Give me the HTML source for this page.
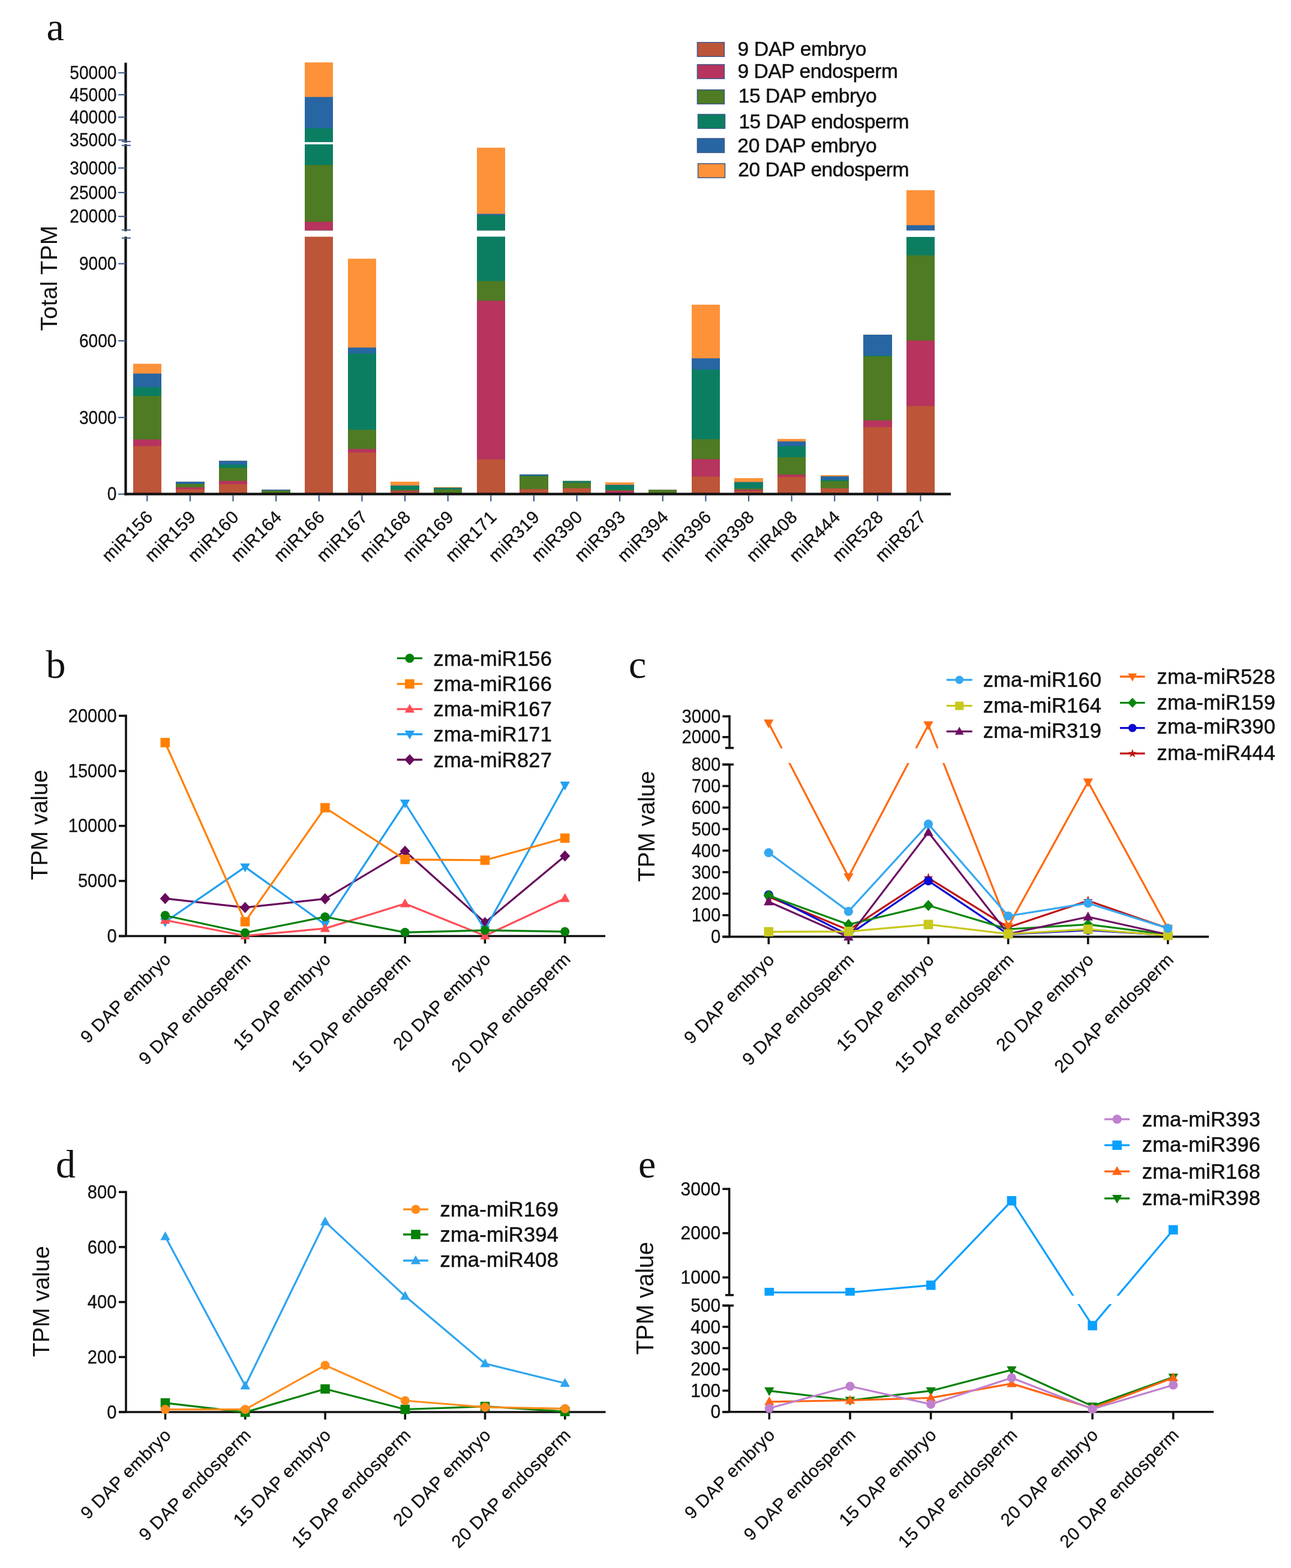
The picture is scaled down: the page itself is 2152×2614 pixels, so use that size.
<!DOCTYPE html>
<html><head><meta charset="utf-8"><title>Figure</title>
<style>
html,body{margin:0;padding:0;background:#fff;width:2152px;height:2614px;overflow:hidden;}
svg{display:block;}
text{font-family:"Liberation Sans",Arial,sans-serif;fill:#111;}
</style></head><body>
<svg width="2152" height="2614" viewBox="0 0 2152 2614">
<rect x="0" y="0" width="2152" height="2614" fill="#fff"/>
<text x="77.5" y="66.5" font-size="66" style="font-family:'Liberation Serif','Times New Roman',serif">a</text>
<rect x="222" y="606.4" width="47" height="217.3" fill="#fe9239" />
<rect x="222" y="622.8" width="47" height="200.9" fill="#2866a3" />
<rect x="222" y="645.3" width="47" height="178.4" fill="#0b7e62" />
<rect x="222" y="660" width="47" height="163.7" fill="#4e7b23" />
<rect x="222" y="732.6" width="47" height="91.1" fill="#b6345e" />
<rect x="222" y="743.8" width="47" height="79.9" fill="#bd5538" />
<rect x="293" y="802.9" width="48" height="20.8" fill="#fe9239" />
<rect x="293" y="803" width="48" height="20.7" fill="#2866a3" />
<rect x="293" y="806.6" width="48" height="17.1" fill="#0b7e62" />
<rect x="293" y="806.8" width="48" height="16.9" fill="#4e7b23" />
<rect x="293" y="812.5" width="48" height="11.2" fill="#b6345e" />
<rect x="293" y="815.6" width="48" height="8.1" fill="#bd5538" />
<rect x="365" y="767.9" width="47" height="55.8" fill="#fe9239" />
<rect x="365" y="768.2" width="47" height="55.5" fill="#2866a3" />
<rect x="365" y="774.5" width="47" height="49.2" fill="#0b7e62" />
<rect x="365" y="780" width="47" height="43.7" fill="#4e7b23" />
<rect x="365" y="801.7" width="47" height="22" fill="#b6345e" />
<rect x="365" y="807.2" width="47" height="16.5" fill="#bd5538" />
<rect x="436" y="816.2" width="48" height="7.5" fill="#fe9239" />
<rect x="436" y="816.3" width="48" height="7.4" fill="#2866a3" />
<rect x="436" y="817.8" width="48" height="5.9" fill="#0b7e62" />
<rect x="436" y="818" width="48" height="5.7" fill="#4e7b23" />
<rect x="436" y="823.3" width="48" height="0.4" fill="#b6345e" />
<rect x="436" y="823.5" width="48" height="0.2" fill="#bd5538" />
<rect x="508" y="394.6" width="47" height="429.1" fill="#bd5538" />
<rect x="508" y="240.6" width="47" height="143.6" fill="#0b7e62" />
<rect x="508" y="275.1" width="47" height="109.1" fill="#4e7b23" />
<rect x="508" y="369.7" width="47" height="14.5" fill="#b6345e" />
<rect x="508" y="104.1" width="47" height="132.6" fill="#fe9239" />
<rect x="508" y="161.7" width="47" height="75" fill="#2866a3" />
<rect x="508" y="213.7" width="47" height="23" fill="#0b7e62" />
<rect x="580" y="431.3" width="47" height="392.4" fill="#fe9239" />
<rect x="580" y="579.4" width="47" height="244.3" fill="#2866a3" />
<rect x="580" y="589.1" width="47" height="234.6" fill="#0b7e62" />
<rect x="580" y="716.4" width="47" height="107.3" fill="#4e7b23" />
<rect x="580" y="748.5" width="47" height="75.2" fill="#b6345e" />
<rect x="580" y="754.3" width="47" height="69.4" fill="#bd5538" />
<rect x="651" y="803" width="48" height="20.7" fill="#fe9239" />
<rect x="651" y="809.4" width="48" height="14.3" fill="#2866a3" />
<rect x="651" y="809.8" width="48" height="13.9" fill="#0b7e62" />
<rect x="651" y="815.9" width="48" height="7.8" fill="#4e7b23" />
<rect x="651" y="818.1" width="48" height="5.6" fill="#b6345e" />
<rect x="651" y="819.5" width="48" height="4.2" fill="#bd5538" />
<rect x="723" y="812" width="47" height="11.7" fill="#fe9239" />
<rect x="723" y="813" width="47" height="10.7" fill="#2866a3" />
<rect x="723" y="813.3" width="47" height="10.4" fill="#0b7e62" />
<rect x="723" y="815.9" width="47" height="7.8" fill="#4e7b23" />
<rect x="723" y="823.3" width="47" height="0.4" fill="#b6345e" />
<rect x="723" y="823.5" width="47" height="0.2" fill="#bd5538" />
<rect x="795" y="394.5" width="47" height="429.2" fill="#0b7e62" />
<rect x="795" y="468.5" width="47" height="355.2" fill="#4e7b23" />
<rect x="795" y="501.2" width="47" height="322.5" fill="#b6345e" />
<rect x="795" y="765.9" width="47" height="57.8" fill="#bd5538" />
<rect x="795" y="246.2" width="47" height="138" fill="#fe9239" />
<rect x="795" y="356.6" width="47" height="27.6" fill="#2866a3" />
<rect x="795" y="358.6" width="47" height="25.6" fill="#0b7e62" />
<rect x="866" y="790.8" width="48" height="32.9" fill="#fe9239" />
<rect x="866" y="790.9" width="48" height="32.8" fill="#2866a3" />
<rect x="866" y="793" width="48" height="30.7" fill="#0b7e62" />
<rect x="866" y="793.8" width="48" height="29.9" fill="#4e7b23" />
<rect x="866" y="815.5" width="48" height="8.2" fill="#b6345e" />
<rect x="866" y="815.7" width="48" height="8" fill="#bd5538" />
<rect x="938" y="801.7" width="47" height="22" fill="#fe9239" />
<rect x="938" y="801.8" width="47" height="21.9" fill="#2866a3" />
<rect x="938" y="801.9" width="47" height="21.8" fill="#0b7e62" />
<rect x="938" y="804.8" width="47" height="18.9" fill="#4e7b23" />
<rect x="938" y="813.8" width="47" height="9.9" fill="#b6345e" />
<rect x="938" y="814" width="47" height="9.7" fill="#bd5538" />
<rect x="1009" y="804.2" width="48" height="19.5" fill="#fe9239" />
<rect x="1009" y="808.2" width="48" height="15.5" fill="#2866a3" />
<rect x="1009" y="808.8" width="48" height="14.9" fill="#0b7e62" />
<rect x="1009" y="816.3" width="48" height="7.4" fill="#4e7b23" />
<rect x="1009" y="818" width="48" height="5.7" fill="#b6345e" />
<rect x="1009" y="823.5" width="48" height="0.2" fill="#bd5538" />
<rect x="1081" y="816.5" width="47" height="7.2" fill="#fe9239" />
<rect x="1081" y="816.6" width="47" height="7.1" fill="#2866a3" />
<rect x="1081" y="816.8" width="47" height="6.9" fill="#0b7e62" />
<rect x="1081" y="817" width="47" height="6.7" fill="#4e7b23" />
<rect x="1081" y="822" width="47" height="1.7" fill="#b6345e" />
<rect x="1081" y="823" width="47" height="0.7" fill="#bd5538" />
<rect x="1153" y="507.9" width="47" height="315.8" fill="#fe9239" />
<rect x="1153" y="597.3" width="47" height="226.4" fill="#2866a3" />
<rect x="1153" y="616" width="47" height="207.7" fill="#0b7e62" />
<rect x="1153" y="732.2" width="47" height="91.5" fill="#4e7b23" />
<rect x="1153" y="765.4" width="47" height="58.3" fill="#b6345e" />
<rect x="1153" y="794.4" width="47" height="29.3" fill="#bd5538" />
<rect x="1224" y="797.1" width="48" height="26.6" fill="#fe9239" />
<rect x="1224" y="803.5" width="48" height="20.2" fill="#2866a3" />
<rect x="1224" y="804.2" width="48" height="19.5" fill="#0b7e62" />
<rect x="1224" y="814.2" width="48" height="9.5" fill="#4e7b23" />
<rect x="1224" y="816.3" width="48" height="7.4" fill="#b6345e" />
<rect x="1224" y="818.5" width="48" height="5.2" fill="#bd5538" />
<rect x="1296" y="731.7" width="47" height="92" fill="#fe9239" />
<rect x="1296" y="735.9" width="47" height="87.8" fill="#2866a3" />
<rect x="1296" y="743.5" width="47" height="80.2" fill="#0b7e62" />
<rect x="1296" y="762.3" width="47" height="61.4" fill="#4e7b23" />
<rect x="1296" y="791.2" width="47" height="32.5" fill="#b6345e" />
<rect x="1296" y="795.1" width="47" height="28.6" fill="#bd5538" />
<rect x="1368" y="792.1" width="47" height="31.6" fill="#fe9239" />
<rect x="1368" y="794.1" width="47" height="29.6" fill="#2866a3" />
<rect x="1368" y="800.1" width="47" height="23.6" fill="#0b7e62" />
<rect x="1368" y="802.1" width="47" height="21.6" fill="#4e7b23" />
<rect x="1368" y="814" width="47" height="9.7" fill="#b6345e" />
<rect x="1368" y="814.2" width="47" height="9.5" fill="#bd5538" />
<rect x="1439" y="557.8" width="48" height="265.9" fill="#fe9239" />
<rect x="1439" y="558" width="48" height="265.7" fill="#2866a3" />
<rect x="1439" y="592.7" width="48" height="231" fill="#0b7e62" />
<rect x="1439" y="594" width="48" height="229.7" fill="#4e7b23" />
<rect x="1439" y="700.8" width="48" height="122.9" fill="#b6345e" />
<rect x="1439" y="712.1" width="48" height="111.6" fill="#bd5538" />
<rect x="1511" y="395" width="47" height="428.7" fill="#0b7e62" />
<rect x="1511" y="425.6" width="47" height="398.1" fill="#4e7b23" />
<rect x="1511" y="567.6" width="47" height="256.1" fill="#b6345e" />
<rect x="1511" y="676.9" width="47" height="146.8" fill="#bd5538" />
<rect x="1511" y="317.1" width="47" height="67.1" fill="#fe9239" />
<rect x="1511" y="375.4" width="47" height="8.8" fill="#2866a3" />
<line x1="209.5" y1="104.5" x2="209.5" y2="237.7" stroke="#111" stroke-width="4.2" />
<line x1="209.5" y1="240.2" x2="209.5" y2="385.6" stroke="#111" stroke-width="4.2" />
<line x1="209.5" y1="394.6" x2="209.5" y2="825.7" stroke="#111" stroke-width="4.2" />
<line x1="202.9" y1="235.9" x2="217.9" y2="235.9" stroke="#3d5a8c" stroke-width="2" />
<line x1="202.9" y1="242.5" x2="217.9" y2="242.5" stroke="#3d5a8c" stroke-width="2" />
<line x1="202.9" y1="383.4" x2="217.9" y2="383.4" stroke="#3d5a8c" stroke-width="2" />
<line x1="202.9" y1="396.8" x2="217.9" y2="396.8" stroke="#3d5a8c" stroke-width="2" />
<line x1="197.2" y1="121.4" x2="209.5" y2="121.4" stroke="#3d5a8c" stroke-width="2.2" />
<text transform="translate(194.49,132) scale(0.91,1)" font-size="30.9" text-anchor="end" textLength="85.93" lengthAdjust="spacing" stroke="#111" stroke-width="0.3">50000</text>
<line x1="197.2" y1="157.9" x2="209.5" y2="157.9" stroke="#3d5a8c" stroke-width="2.2" />
<text transform="translate(194.49,168.5) scale(0.91,1)" font-size="30.9" text-anchor="end" textLength="85.93" lengthAdjust="spacing" stroke="#111" stroke-width="0.3">45000</text>
<line x1="197.2" y1="195.4" x2="209.5" y2="195.4" stroke="#3d5a8c" stroke-width="2.2" />
<text transform="translate(194.49,206) scale(0.91,1)" font-size="30.9" text-anchor="end" textLength="85.93" lengthAdjust="spacing" stroke="#111" stroke-width="0.3">40000</text>
<line x1="197.2" y1="233.4" x2="209.5" y2="233.4" stroke="#3d5a8c" stroke-width="2.2" />
<text transform="translate(194.49,244) scale(0.91,1)" font-size="30.9" text-anchor="end" textLength="85.93" lengthAdjust="spacing" stroke="#111" stroke-width="0.3">35000</text>
<line x1="197.2" y1="280.1" x2="209.5" y2="280.1" stroke="#3d5a8c" stroke-width="2.2" />
<text transform="translate(194.49,290.7) scale(0.91,1)" font-size="30.9" text-anchor="end" textLength="85.93" lengthAdjust="spacing" stroke="#111" stroke-width="0.3">30000</text>
<line x1="197.2" y1="321" x2="209.5" y2="321" stroke="#3d5a8c" stroke-width="2.2" />
<text transform="translate(194.49,331.6) scale(0.91,1)" font-size="30.9" text-anchor="end" textLength="85.93" lengthAdjust="spacing" stroke="#111" stroke-width="0.3">25000</text>
<line x1="197.2" y1="360.8" x2="209.5" y2="360.8" stroke="#3d5a8c" stroke-width="2.2" />
<text transform="translate(194.49,371.4) scale(0.91,1)" font-size="30.9" text-anchor="end" textLength="85.93" lengthAdjust="spacing" stroke="#111" stroke-width="0.3">20000</text>
<line x1="197.2" y1="439.6" x2="209.5" y2="439.6" stroke="#3d5a8c" stroke-width="2.2" />
<text transform="translate(194.51,450.2) scale(0.91,1)" font-size="30.9" text-anchor="end" textLength="68.74" lengthAdjust="spacing" stroke="#111" stroke-width="0.3">9000</text>
<line x1="197.2" y1="568.2" x2="209.5" y2="568.2" stroke="#3d5a8c" stroke-width="2.2" />
<text transform="translate(194.51,578.8) scale(0.91,1)" font-size="30.9" text-anchor="end" textLength="68.74" lengthAdjust="spacing" stroke="#111" stroke-width="0.3">6000</text>
<line x1="197.2" y1="696" x2="209.5" y2="696" stroke="#3d5a8c" stroke-width="2.2" />
<text transform="translate(194.51,706.6) scale(0.91,1)" font-size="30.9" text-anchor="end" textLength="68.74" lengthAdjust="spacing" stroke="#111" stroke-width="0.3">3000</text>
<line x1="197.2" y1="823.7" x2="209.5" y2="823.7" stroke="#3d5a8c" stroke-width="2.2" />
<text transform="translate(194.5,834.3) scale(0.91,1)" font-size="30.9" text-anchor="end" textLength="17.19" lengthAdjust="spacing" stroke="#111" stroke-width="0.3">0</text>
<line x1="207.4" y1="823.7" x2="1585" y2="823.7" stroke="#111" stroke-width="4.2" />
<line x1="245.3" y1="825.7" x2="245.3" y2="835.8" stroke="#3d5a8c" stroke-width="2.2" />
<text transform="translate(256.3,864) rotate(-45)" font-size="29.5" text-anchor="end" textLength="105.21" lengthAdjust="spacing" stroke="#111" stroke-width="0.3">miR156</text>
<line x1="316.92" y1="825.7" x2="316.92" y2="835.8" stroke="#3d5a8c" stroke-width="2.2" />
<text transform="translate(327.92,864) rotate(-45)" font-size="29.5" text-anchor="end" textLength="105.21" lengthAdjust="spacing" stroke="#111" stroke-width="0.3">miR159</text>
<line x1="388.54" y1="825.7" x2="388.54" y2="835.8" stroke="#3d5a8c" stroke-width="2.2" />
<text transform="translate(399.54,864) rotate(-45)" font-size="29.5" text-anchor="end" textLength="105.21" lengthAdjust="spacing" stroke="#111" stroke-width="0.3">miR160</text>
<line x1="460.16" y1="825.7" x2="460.16" y2="835.8" stroke="#3d5a8c" stroke-width="2.2" />
<text transform="translate(471.16,864) rotate(-45)" font-size="29.5" text-anchor="end" textLength="105.21" lengthAdjust="spacing" stroke="#111" stroke-width="0.3">miR164</text>
<line x1="531.78" y1="825.7" x2="531.78" y2="835.8" stroke="#3d5a8c" stroke-width="2.2" />
<text transform="translate(542.78,864) rotate(-45)" font-size="29.5" text-anchor="end" textLength="105.21" lengthAdjust="spacing" stroke="#111" stroke-width="0.3">miR166</text>
<line x1="603.4" y1="825.7" x2="603.4" y2="835.8" stroke="#3d5a8c" stroke-width="2.2" />
<text transform="translate(614.4,864) rotate(-45)" font-size="29.5" text-anchor="end" textLength="105.21" lengthAdjust="spacing" stroke="#111" stroke-width="0.3">miR167</text>
<line x1="675.02" y1="825.7" x2="675.02" y2="835.8" stroke="#3d5a8c" stroke-width="2.2" />
<text transform="translate(686.02,864) rotate(-45)" font-size="29.5" text-anchor="end" textLength="105.21" lengthAdjust="spacing" stroke="#111" stroke-width="0.3">miR168</text>
<line x1="746.64" y1="825.7" x2="746.64" y2="835.8" stroke="#3d5a8c" stroke-width="2.2" />
<text transform="translate(757.64,864) rotate(-45)" font-size="29.5" text-anchor="end" textLength="105.21" lengthAdjust="spacing" stroke="#111" stroke-width="0.3">miR169</text>
<line x1="818.26" y1="825.7" x2="818.26" y2="835.8" stroke="#3d5a8c" stroke-width="2.2" />
<text transform="translate(829.26,864) rotate(-45)" font-size="29.5" text-anchor="end" textLength="105.21" lengthAdjust="spacing" stroke="#111" stroke-width="0.3">miR171</text>
<line x1="889.88" y1="825.7" x2="889.88" y2="835.8" stroke="#3d5a8c" stroke-width="2.2" />
<text transform="translate(900.88,864) rotate(-45)" font-size="29.5" text-anchor="end" textLength="105.21" lengthAdjust="spacing" stroke="#111" stroke-width="0.3">miR319</text>
<line x1="961.5" y1="825.7" x2="961.5" y2="835.8" stroke="#3d5a8c" stroke-width="2.2" />
<text transform="translate(972.5,864) rotate(-45)" font-size="29.5" text-anchor="end" textLength="105.21" lengthAdjust="spacing" stroke="#111" stroke-width="0.3">miR390</text>
<line x1="1033.12" y1="825.7" x2="1033.12" y2="835.8" stroke="#3d5a8c" stroke-width="2.2" />
<text transform="translate(1044.12,864) rotate(-45)" font-size="29.5" text-anchor="end" textLength="105.21" lengthAdjust="spacing" stroke="#111" stroke-width="0.3">miR393</text>
<line x1="1104.74" y1="825.7" x2="1104.74" y2="835.8" stroke="#3d5a8c" stroke-width="2.2" />
<text transform="translate(1115.74,864) rotate(-45)" font-size="29.5" text-anchor="end" textLength="105.21" lengthAdjust="spacing" stroke="#111" stroke-width="0.3">miR394</text>
<line x1="1176.36" y1="825.7" x2="1176.36" y2="835.8" stroke="#3d5a8c" stroke-width="2.2" />
<text transform="translate(1187.36,864) rotate(-45)" font-size="29.5" text-anchor="end" textLength="105.21" lengthAdjust="spacing" stroke="#111" stroke-width="0.3">miR396</text>
<line x1="1247.98" y1="825.7" x2="1247.98" y2="835.8" stroke="#3d5a8c" stroke-width="2.2" />
<text transform="translate(1258.98,864) rotate(-45)" font-size="29.5" text-anchor="end" textLength="105.21" lengthAdjust="spacing" stroke="#111" stroke-width="0.3">miR398</text>
<line x1="1319.6" y1="825.7" x2="1319.6" y2="835.8" stroke="#3d5a8c" stroke-width="2.2" />
<text transform="translate(1330.6,864) rotate(-45)" font-size="29.5" text-anchor="end" textLength="105.21" lengthAdjust="spacing" stroke="#111" stroke-width="0.3">miR408</text>
<line x1="1391.22" y1="825.7" x2="1391.22" y2="835.8" stroke="#3d5a8c" stroke-width="2.2" />
<text transform="translate(1402.22,864) rotate(-45)" font-size="29.5" text-anchor="end" textLength="105.21" lengthAdjust="spacing" stroke="#111" stroke-width="0.3">miR444</text>
<line x1="1462.84" y1="825.7" x2="1462.84" y2="835.8" stroke="#3d5a8c" stroke-width="2.2" />
<text transform="translate(1473.84,864) rotate(-45)" font-size="29.5" text-anchor="end" textLength="105.21" lengthAdjust="spacing" stroke="#111" stroke-width="0.3">miR528</text>
<line x1="1534.46" y1="825.7" x2="1534.46" y2="835.8" stroke="#3d5a8c" stroke-width="2.2" />
<text transform="translate(1545.46,864) rotate(-45)" font-size="29.5" text-anchor="end" textLength="105.21" lengthAdjust="spacing" stroke="#111" stroke-width="0.3">miR827</text>
<text transform="translate(94.8,551.54) rotate(-90)" font-size="38.2" textLength="175.27" lengthAdjust="spacing">Total TPM</text>
<rect x="1162.4" y="70.7" width="45" height="23.5" fill="#bd5538" stroke="#3d5a8c" stroke-width="1.5"/>
<text x="1229.42" y="93.1" font-size="33.6" textLength="215" lengthAdjust="spacing" stroke="#111" stroke-width="0.5">9 DAP embryo</text>
<rect x="1162.4" y="107.6" width="45" height="23.5" fill="#b6345e" stroke="#3d5a8c" stroke-width="1.5"/>
<text x="1229.42" y="129.5" font-size="33.6" textLength="267.59" lengthAdjust="spacing" stroke="#111" stroke-width="0.5">9 DAP endosperm</text>
<rect x="1162.4" y="149.8" width="45" height="23.5" fill="#4e7b23" stroke="#3d5a8c" stroke-width="1.5"/>
<text x="1230.75" y="171" font-size="33.6" textLength="230.98" lengthAdjust="spacing" stroke="#111" stroke-width="0.5">15 DAP embryo</text>
<rect x="1163.5" y="190.6" width="45" height="23.5" fill="#0b7e62" stroke="#3d5a8c" stroke-width="1.5"/>
<text x="1231.45" y="213.6" font-size="33.6" textLength="284.07" lengthAdjust="spacing" stroke="#111" stroke-width="0.5">15 DAP endosperm</text>
<rect x="1162.4" y="230.9" width="45" height="23.5" fill="#2866a3" stroke="#3d5a8c" stroke-width="1.5"/>
<text x="1229.32" y="253.9" font-size="33.6" textLength="232.41" lengthAdjust="spacing" stroke="#111" stroke-width="0.5">20 DAP embryo</text>
<rect x="1163.5" y="272.8" width="45" height="23.5" fill="#fe9239" stroke="#3d5a8c" stroke-width="1.5"/>
<text x="1230.32" y="294.2" font-size="33.6" textLength="285.2" lengthAdjust="spacing" stroke="#111" stroke-width="0.5">20 DAP endosperm</text>
<text x="76.5" y="1130" font-size="66" style="font-family:'Liberation Serif','Times New Roman',serif">b</text>
<line x1="210" y1="1191.5" x2="210" y2="1560.5" stroke="#111" stroke-width="3.6" />
<line x1="198" y1="1193.3" x2="210" y2="1193.3" stroke="#111" stroke-width="3.6" />
<text transform="translate(194.63,1203.9) scale(0.942,1)" font-size="30.9" text-anchor="end" textLength="85.93" lengthAdjust="spacing" stroke="#111" stroke-width="0.3">20000</text>
<line x1="198" y1="1285.4" x2="210" y2="1285.4" stroke="#111" stroke-width="3.6" />
<text transform="translate(194.63,1296) scale(0.942,1)" font-size="30.9" text-anchor="end" textLength="85.93" lengthAdjust="spacing" stroke="#111" stroke-width="0.3">15000</text>
<line x1="198" y1="1376.8" x2="210" y2="1376.8" stroke="#111" stroke-width="3.6" />
<text transform="translate(194.63,1387.4) scale(0.942,1)" font-size="30.9" text-anchor="end" textLength="85.93" lengthAdjust="spacing" stroke="#111" stroke-width="0.3">10000</text>
<line x1="198" y1="1468.6" x2="210" y2="1468.6" stroke="#111" stroke-width="3.6" />
<text transform="translate(194.65,1479.2) scale(0.942,1)" font-size="30.9" text-anchor="end" textLength="68.74" lengthAdjust="spacing" stroke="#111" stroke-width="0.3">5000</text>
<line x1="198" y1="1560.5" x2="210" y2="1560.5" stroke="#111" stroke-width="3.6" />
<text transform="translate(194.64,1571.1) scale(0.942,1)" font-size="30.9" text-anchor="end" textLength="17.19" lengthAdjust="spacing" stroke="#111" stroke-width="0.3">0</text>
<line x1="198" y1="1560.5" x2="1009" y2="1560.5" stroke="#111" stroke-width="3.6" />
<line x1="275.3" y1="1560.5" x2="275.3" y2="1573" stroke="#111" stroke-width="3.6" />
<line x1="408.58" y1="1560.5" x2="408.58" y2="1573" stroke="#111" stroke-width="3.6" />
<line x1="541.86" y1="1560.5" x2="541.86" y2="1573" stroke="#111" stroke-width="3.6" />
<line x1="675.14" y1="1560.5" x2="675.14" y2="1573" stroke="#111" stroke-width="3.6" />
<line x1="808.42" y1="1560.5" x2="808.42" y2="1573" stroke="#111" stroke-width="3.6" />
<line x1="941.7" y1="1560.5" x2="941.7" y2="1573" stroke="#111" stroke-width="3.6" />
<text transform="translate(286.3,1600.8) rotate(-45)" font-size="29.5" text-anchor="end" textLength="197.99" lengthAdjust="spacing" stroke="#111" stroke-width="0.3">9 DAP embryo</text>
<text transform="translate(419.58,1600.8) rotate(-45)" font-size="29.5" text-anchor="end" textLength="248.93" lengthAdjust="spacing" stroke="#111" stroke-width="0.3">9 DAP endosperm</text>
<text transform="translate(552.86,1600.8) rotate(-45)" font-size="29.5" text-anchor="end" textLength="214.97" lengthAdjust="spacing" stroke="#111" stroke-width="0.3">15 DAP embryo</text>
<text transform="translate(686.14,1600.8) rotate(-45)" font-size="29.5" text-anchor="end" textLength="265.91" lengthAdjust="spacing" stroke="#111" stroke-width="0.3">15 DAP endosperm</text>
<text transform="translate(819.42,1600.8) rotate(-45)" font-size="29.5" text-anchor="end" textLength="214.97" lengthAdjust="spacing" stroke="#111" stroke-width="0.3">20 DAP embryo</text>
<text transform="translate(952.7,1600.8) rotate(-45)" font-size="29.5" text-anchor="end" textLength="265.91" lengthAdjust="spacing" stroke="#111" stroke-width="0.3">20 DAP endosperm</text>
<text transform="translate(79.3,1467.06) rotate(-90)" font-size="39" textLength="183.79" lengthAdjust="spacing">TPM value</text>
<polyline points="275.3,1497.9 408.58,1512.9 541.86,1498.4 675.14,1419 808.42,1538 941.7,1427" fill="none" stroke="#680b5c" stroke-width="3.2" stroke-linejoin="round"/>
<polygon points="275.3,1488.6 283.9,1497.9 275.3,1507.2 266.7,1497.9" fill="#680b5c"/>
<polygon points="408.58,1503.6 417.18,1512.9 408.58,1522.2 399.98,1512.9" fill="#680b5c"/>
<polygon points="541.86,1489.1 550.46,1498.4 541.86,1507.7 533.26,1498.4" fill="#680b5c"/>
<polygon points="675.14,1409.7 683.74,1419 675.14,1428.3 666.54,1419" fill="#680b5c"/>
<polygon points="808.42,1528.7 817.02,1538 808.42,1547.3 799.82,1538" fill="#680b5c"/>
<polygon points="941.7,1417.7 950.3,1427 941.7,1436.3 933.1,1427" fill="#680b5c"/>
<polyline points="275.3,1537 408.58,1445.4 541.86,1541 675.14,1339 808.42,1549.6 941.7,1309" fill="none" stroke="#22a0f0" stroke-width="3.2" stroke-linejoin="round"/>
<polygon points="275.3,1545.8 283.5,1531.1 267.1,1531.1" fill="#22a0f0"/>
<polygon points="408.58,1454.2 416.78,1439.5 400.38,1439.5" fill="#22a0f0"/>
<polygon points="541.86,1549.8 550.06,1535.1 533.66,1535.1" fill="#22a0f0"/>
<polygon points="675.14,1347.8 683.34,1333.1 666.94,1333.1" fill="#22a0f0"/>
<polygon points="808.42,1558.4 816.62,1543.7 800.22,1543.7" fill="#22a0f0"/>
<polygon points="941.7,1317.8 949.9,1303.1 933.5,1303.1" fill="#22a0f0"/>
<polyline points="275.3,1534 408.58,1560 541.86,1547.9 675.14,1506.5 808.42,1560 941.7,1497.8" fill="none" stroke="#ff4d55" stroke-width="3.2" stroke-linejoin="round"/>
<polygon points="275.3,1525.2 283.5,1539.9 267.1,1539.9" fill="#ff4d55"/>
<polygon points="408.58,1551.2 416.78,1565.9 400.38,1565.9" fill="#ff4d55"/>
<polygon points="541.86,1539.1 550.06,1553.8 533.66,1553.8" fill="#ff4d55"/>
<polygon points="675.14,1497.7 683.34,1512.4 666.94,1512.4" fill="#ff4d55"/>
<polygon points="808.42,1551.2 816.62,1565.9 800.22,1565.9" fill="#ff4d55"/>
<polygon points="941.7,1489 949.9,1503.7 933.5,1503.7" fill="#ff4d55"/>
<polyline points="275.3,1238 408.58,1536.6 541.86,1346.5 675.14,1432.8 808.42,1434 941.7,1397.2" fill="none" stroke="#ff8000" stroke-width="3.2" stroke-linejoin="round"/>
<rect x="267.5" y="1230.2" width="15.6" height="15.6" fill="#ff8000"/>
<rect x="400.78" y="1528.8" width="15.6" height="15.6" fill="#ff8000"/>
<rect x="534.06" y="1338.7" width="15.6" height="15.6" fill="#ff8000"/>
<rect x="667.34" y="1425" width="15.6" height="15.6" fill="#ff8000"/>
<rect x="800.62" y="1426.2" width="15.6" height="15.6" fill="#ff8000"/>
<rect x="933.9" y="1389.4" width="15.6" height="15.6" fill="#ff8000"/>
<polyline points="275.3,1526.2 408.58,1555 541.86,1528.5 675.14,1554.4 808.42,1550.9 941.7,1553.2" fill="none" stroke="#04800a" stroke-width="3.2" stroke-linejoin="round"/>
<circle cx="275.3" cy="1526.2" r="7.6" fill="#04800a"/>
<circle cx="408.58" cy="1555" r="7.6" fill="#04800a"/>
<circle cx="541.86" cy="1528.5" r="7.6" fill="#04800a"/>
<circle cx="675.14" cy="1554.4" r="7.6" fill="#04800a"/>
<circle cx="808.42" cy="1550.9" r="7.6" fill="#04800a"/>
<circle cx="941.7" cy="1553.2" r="7.6" fill="#04800a"/>
<line x1="661.8" y1="1097.4" x2="704" y2="1097.4" stroke="#04800a" stroke-width="3.3" />
<circle cx="682.9" cy="1097.4" r="7.6" fill="#04800a"/>
<text x="722.49" y="1109.8" font-size="34.4" textLength="197.32" lengthAdjust="spacing" stroke="#111" stroke-width="0.5">zma-miR156</text>
<line x1="661.8" y1="1140.2" x2="704" y2="1140.2" stroke="#ff8000" stroke-width="3.3" />
<rect x="675.1" y="1132.4" width="15.6" height="15.6" fill="#ff8000"/>
<text x="722.49" y="1151.6" font-size="34.4" textLength="197.32" lengthAdjust="spacing" stroke="#111" stroke-width="0.5">zma-miR166</text>
<line x1="661.8" y1="1182.2" x2="704" y2="1182.2" stroke="#ff4d55" stroke-width="3.3" />
<polygon points="682.9,1173.4 691.1,1188.1 674.7,1188.1" fill="#ff4d55"/>
<text x="722.49" y="1193.6" font-size="34.4" textLength="197.32" lengthAdjust="spacing" stroke="#111" stroke-width="0.5">zma-miR167</text>
<line x1="661.8" y1="1224" x2="704" y2="1224" stroke="#22a0f0" stroke-width="3.3" />
<polygon points="682.9,1232.8 691.1,1218.1 674.7,1218.1" fill="#22a0f0"/>
<text x="722.49" y="1236" font-size="34.4" textLength="197.32" lengthAdjust="spacing" stroke="#111" stroke-width="0.5">zma-miR171</text>
<line x1="661.8" y1="1266.5" x2="704" y2="1266.5" stroke="#680b5c" stroke-width="3.3" />
<polygon points="682.9,1257.2 691.5,1266.5 682.9,1275.8 674.3,1266.5" fill="#680b5c"/>
<text x="722.49" y="1279.4" font-size="34.4" textLength="197.32" lengthAdjust="spacing" stroke="#111" stroke-width="0.5">zma-miR827</text>
<text x="1048" y="1130" font-size="66" style="font-family:'Liberation Serif','Times New Roman',serif">c</text>
<defs><clipPath id="clipc"><rect x="1100" y="1100" width="1000" height="147.4"/><rect x="1100" y="1272" width="1000" height="400"/></clipPath><clipPath id="clipe"><rect x="1100" y="1900" width="1000" height="260"/><rect x="1100" y="2174" width="1000" height="300"/></clipPath></defs>
<line x1="1216" y1="1192.4" x2="1216" y2="1246.9" stroke="#111" stroke-width="3.6" />
<line x1="1209" y1="1246.9" x2="1223" y2="1246.9" stroke="#111" stroke-width="3.6" />
<line x1="1216" y1="1274.5" x2="1216" y2="1561.6" stroke="#111" stroke-width="3.6" />
<line x1="1204.3" y1="1274.5" x2="1223" y2="1274.5" stroke="#111" stroke-width="3.6" />
<line x1="1204.3" y1="1194.2" x2="1216" y2="1194.2" stroke="#111" stroke-width="3.6" />
<text transform="translate(1201.36,1204.8) scale(0.945,1)" font-size="30.9" text-anchor="end" textLength="68.74" lengthAdjust="spacing" stroke="#111" stroke-width="0.3">3000</text>
<line x1="1204.3" y1="1228.8" x2="1216" y2="1228.8" stroke="#111" stroke-width="3.6" />
<text transform="translate(1201.36,1239.4) scale(0.945,1)" font-size="30.9" text-anchor="end" textLength="68.74" lengthAdjust="spacing" stroke="#111" stroke-width="0.3">2000</text>
<line x1="1204.3" y1="1561.6" x2="1216" y2="1561.6" stroke="#111" stroke-width="3.6" />
<text transform="translate(1201.34,1572.2) scale(0.945,1)" font-size="30.9" text-anchor="end" textLength="17.19" lengthAdjust="spacing" stroke="#111" stroke-width="0.3">0</text>
<line x1="1204.3" y1="1525.71" x2="1216" y2="1525.71" stroke="#111" stroke-width="3.6" />
<text transform="translate(1201.35,1536.31) scale(0.945,1)" font-size="30.9" text-anchor="end" textLength="51.56" lengthAdjust="spacing" stroke="#111" stroke-width="0.3">100</text>
<line x1="1204.3" y1="1489.82" x2="1216" y2="1489.82" stroke="#111" stroke-width="3.6" />
<text transform="translate(1201.35,1500.42) scale(0.945,1)" font-size="30.9" text-anchor="end" textLength="51.56" lengthAdjust="spacing" stroke="#111" stroke-width="0.3">200</text>
<line x1="1204.3" y1="1453.94" x2="1216" y2="1453.94" stroke="#111" stroke-width="3.6" />
<text transform="translate(1201.35,1464.54) scale(0.945,1)" font-size="30.9" text-anchor="end" textLength="51.56" lengthAdjust="spacing" stroke="#111" stroke-width="0.3">300</text>
<line x1="1204.3" y1="1418.05" x2="1216" y2="1418.05" stroke="#111" stroke-width="3.6" />
<text transform="translate(1201.35,1428.65) scale(0.945,1)" font-size="30.9" text-anchor="end" textLength="51.56" lengthAdjust="spacing" stroke="#111" stroke-width="0.3">400</text>
<line x1="1204.3" y1="1382.16" x2="1216" y2="1382.16" stroke="#111" stroke-width="3.6" />
<text transform="translate(1201.35,1392.76) scale(0.945,1)" font-size="30.9" text-anchor="end" textLength="51.56" lengthAdjust="spacing" stroke="#111" stroke-width="0.3">500</text>
<line x1="1204.3" y1="1346.28" x2="1216" y2="1346.28" stroke="#111" stroke-width="3.6" />
<text transform="translate(1201.35,1356.88) scale(0.945,1)" font-size="30.9" text-anchor="end" textLength="51.56" lengthAdjust="spacing" stroke="#111" stroke-width="0.3">600</text>
<line x1="1204.3" y1="1310.39" x2="1216" y2="1310.39" stroke="#111" stroke-width="3.6" />
<text transform="translate(1201.35,1320.99) scale(0.945,1)" font-size="30.9" text-anchor="end" textLength="51.56" lengthAdjust="spacing" stroke="#111" stroke-width="0.3">700</text>
<line x1="1204.3" y1="1274.5" x2="1216" y2="1274.5" stroke="#111" stroke-width="3.6" />
<text transform="translate(1201.35,1285.1) scale(0.945,1)" font-size="30.9" text-anchor="end" textLength="51.56" lengthAdjust="spacing" stroke="#111" stroke-width="0.3">800</text>
<line x1="1204.3" y1="1561.6" x2="2015" y2="1561.6" stroke="#111" stroke-width="3.6" />
<line x1="1281.3" y1="1561.6" x2="1281.3" y2="1574.1" stroke="#111" stroke-width="3.6" />
<line x1="1414.4" y1="1561.6" x2="1414.4" y2="1574.1" stroke="#111" stroke-width="3.6" />
<line x1="1547.5" y1="1561.6" x2="1547.5" y2="1574.1" stroke="#111" stroke-width="3.6" />
<line x1="1680.6" y1="1561.6" x2="1680.6" y2="1574.1" stroke="#111" stroke-width="3.6" />
<line x1="1813.7" y1="1561.6" x2="1813.7" y2="1574.1" stroke="#111" stroke-width="3.6" />
<line x1="1946.8" y1="1561.6" x2="1946.8" y2="1574.1" stroke="#111" stroke-width="3.6" />
<text transform="translate(1292.3,1601.9) rotate(-45)" font-size="29.5" text-anchor="end" textLength="197.99" lengthAdjust="spacing" stroke="#111" stroke-width="0.3">9 DAP embryo</text>
<text transform="translate(1425.4,1601.9) rotate(-45)" font-size="29.5" text-anchor="end" textLength="248.93" lengthAdjust="spacing" stroke="#111" stroke-width="0.3">9 DAP endosperm</text>
<text transform="translate(1558.5,1601.9) rotate(-45)" font-size="29.5" text-anchor="end" textLength="214.97" lengthAdjust="spacing" stroke="#111" stroke-width="0.3">15 DAP embryo</text>
<text transform="translate(1691.6,1601.9) rotate(-45)" font-size="29.5" text-anchor="end" textLength="265.91" lengthAdjust="spacing" stroke="#111" stroke-width="0.3">15 DAP endosperm</text>
<text transform="translate(1824.7,1601.9) rotate(-45)" font-size="29.5" text-anchor="end" textLength="214.97" lengthAdjust="spacing" stroke="#111" stroke-width="0.3">20 DAP embryo</text>
<text transform="translate(1957.8,1601.9) rotate(-45)" font-size="29.5" text-anchor="end" textLength="265.91" lengthAdjust="spacing" stroke="#111" stroke-width="0.3">20 DAP endosperm</text>
<text transform="translate(1091.3,1469.96) rotate(-90)" font-size="39" textLength="184.79" lengthAdjust="spacing">TPM value</text>
<polyline points="1281.3,1495 1414.4,1550.5 1547.5,1463.6 1680.6,1546 1813.7,1501.6 1946.8,1547.6" fill="none" stroke="#c01414" stroke-width="3.2" stroke-linejoin="round" clip-path="url(#clipc)"/>
<g clip-path="url(#clipc)">
<polygon points="1281.3,1486.5 1283.3,1492.25 1289.38,1492.37 1284.53,1496.05 1286.3,1501.88 1281.3,1498.4 1276.3,1501.88 1278.07,1496.05 1273.22,1492.37 1279.3,1492.25" fill="#c01414"/>
<polygon points="1414.4,1542 1416.4,1547.75 1422.48,1547.87 1417.63,1551.55 1419.4,1557.38 1414.4,1553.9 1409.4,1557.38 1411.17,1551.55 1406.32,1547.87 1412.4,1547.75" fill="#c01414"/>
<polygon points="1547.5,1455.1 1549.5,1460.85 1555.58,1460.97 1550.73,1464.65 1552.5,1470.48 1547.5,1467 1542.5,1470.48 1544.27,1464.65 1539.42,1460.97 1545.5,1460.85" fill="#c01414"/>
<polygon points="1680.6,1537.5 1682.6,1543.25 1688.68,1543.37 1683.83,1547.05 1685.6,1552.88 1680.6,1549.4 1675.6,1552.88 1677.37,1547.05 1672.52,1543.37 1678.6,1543.25" fill="#c01414"/>
<polygon points="1813.7,1493.1 1815.7,1498.85 1821.78,1498.97 1816.93,1502.65 1818.7,1508.48 1813.7,1505 1808.7,1508.48 1810.47,1502.65 1805.62,1498.97 1811.7,1498.85" fill="#c01414"/>
<polygon points="1946.8,1539.1 1948.8,1544.85 1954.88,1544.97 1950.03,1548.65 1951.8,1554.48 1946.8,1551 1941.8,1554.48 1943.57,1548.65 1938.72,1544.97 1944.8,1544.85" fill="#c01414"/>
</g>
<polyline points="1281.3,1491.8 1414.4,1558.6 1547.5,1468.3 1680.6,1557.5 1813.7,1550.7 1946.8,1559" fill="none" stroke="#0a0ad0" stroke-width="3.2" stroke-linejoin="round" clip-path="url(#clipc)"/>
<g clip-path="url(#clipc)">
<circle cx="1281.3" cy="1491.8" r="7.6" fill="#0a0ad0"/>
<circle cx="1414.4" cy="1558.6" r="7.6" fill="#0a0ad0"/>
<circle cx="1547.5" cy="1468.3" r="7.6" fill="#0a0ad0"/>
<circle cx="1680.6" cy="1557.5" r="7.6" fill="#0a0ad0"/>
<circle cx="1813.7" cy="1550.7" r="7.6" fill="#0a0ad0"/>
<circle cx="1946.8" cy="1559" r="7.6" fill="#0a0ad0"/>
</g>
<polyline points="1281.3,1492.9 1414.4,1541.3 1547.5,1509.5 1680.6,1549 1813.7,1541.2 1946.8,1558" fill="none" stroke="#0a870a" stroke-width="3.2" stroke-linejoin="round" clip-path="url(#clipc)"/>
<g clip-path="url(#clipc)">
<polygon points="1281.3,1483.6 1289.9,1492.9 1281.3,1502.2 1272.7,1492.9" fill="#0a870a"/>
<polygon points="1414.4,1532 1423,1541.3 1414.4,1550.6 1405.8,1541.3" fill="#0a870a"/>
<polygon points="1547.5,1500.2 1556.1,1509.5 1547.5,1518.8 1538.9,1509.5" fill="#0a870a"/>
<polygon points="1680.6,1539.7 1689.2,1549 1680.6,1558.3 1672,1549" fill="#0a870a"/>
<polygon points="1813.7,1531.9 1822.3,1541.2 1813.7,1550.5 1805.1,1541.2" fill="#0a870a"/>
<polygon points="1946.8,1548.7 1955.4,1558 1946.8,1567.3 1938.2,1558" fill="#0a870a"/>
</g>
<polyline points="1281.3,1205.4 1414.4,1461.8 1547.5,1208.5 1680.6,1544.4 1813.7,1303.6 1946.8,1547.6" fill="none" stroke="#ff6a10" stroke-width="3.2" stroke-linejoin="round" clip-path="url(#clipc)"/>
<g clip-path="url(#clipc)">
<polygon points="1281.3,1214.2 1289.5,1199.5 1273.1,1199.5" fill="#ff6a10"/>
<polygon points="1414.4,1470.6 1422.6,1455.9 1406.2,1455.9" fill="#ff6a10"/>
<polygon points="1547.5,1217.3 1555.7,1202.6 1539.3,1202.6" fill="#ff6a10"/>
<polygon points="1680.6,1553.2 1688.8,1538.5 1672.4,1538.5" fill="#ff6a10"/>
<polygon points="1813.7,1312.4 1821.9,1297.7 1805.5,1297.7" fill="#ff6a10"/>
<polygon points="1946.8,1556.4 1955,1541.7 1938.6,1541.7" fill="#ff6a10"/>
</g>
<polyline points="1281.3,1503.3 1414.4,1562 1547.5,1387.5 1680.6,1557 1813.7,1528.5 1946.8,1558" fill="none" stroke="#6e1064" stroke-width="3.2" stroke-linejoin="round" clip-path="url(#clipc)"/>
<g clip-path="url(#clipc)">
<polygon points="1281.3,1494.5 1289.5,1509.2 1273.1,1509.2" fill="#6e1064"/>
<polygon points="1414.4,1553.2 1422.6,1567.9 1406.2,1567.9" fill="#6e1064"/>
<polygon points="1547.5,1378.7 1555.7,1393.4 1539.3,1393.4" fill="#6e1064"/>
<polygon points="1680.6,1548.2 1688.8,1562.9 1672.4,1562.9" fill="#6e1064"/>
<polygon points="1813.7,1519.7 1821.9,1534.4 1805.5,1534.4" fill="#6e1064"/>
<polygon points="1946.8,1549.2 1955,1563.9 1938.6,1563.9" fill="#6e1064"/>
</g>
<polyline points="1281.3,1553.3 1414.4,1552.8 1547.5,1541.2 1680.6,1557 1813.7,1549.1 1946.8,1559.5" fill="none" stroke="#c8c81e" stroke-width="3.2" stroke-linejoin="round" clip-path="url(#clipc)"/>
<g clip-path="url(#clipc)">
<rect x="1273.5" y="1545.5" width="15.6" height="15.6" fill="#c8c81e"/>
<rect x="1406.6" y="1545" width="15.6" height="15.6" fill="#c8c81e"/>
<rect x="1539.7" y="1533.4" width="15.6" height="15.6" fill="#c8c81e"/>
<rect x="1672.8" y="1549.2" width="15.6" height="15.6" fill="#c8c81e"/>
<rect x="1805.9" y="1541.3" width="15.6" height="15.6" fill="#c8c81e"/>
<rect x="1939" y="1551.7" width="15.6" height="15.6" fill="#c8c81e"/>
</g>
<polyline points="1281.3,1421.5 1414.4,1519.4 1547.5,1373.9 1680.6,1527 1813.7,1505.7 1946.8,1547.6" fill="none" stroke="#35a8f0" stroke-width="3.2" stroke-linejoin="round" clip-path="url(#clipc)"/>
<g clip-path="url(#clipc)">
<circle cx="1281.3" cy="1421.5" r="7.6" fill="#35a8f0"/>
<circle cx="1414.4" cy="1519.4" r="7.6" fill="#35a8f0"/>
<circle cx="1547.5" cy="1373.9" r="7.6" fill="#35a8f0"/>
<circle cx="1680.6" cy="1527" r="7.6" fill="#35a8f0"/>
<circle cx="1813.7" cy="1505.7" r="7.6" fill="#35a8f0"/>
<circle cx="1946.8" cy="1547.6" r="7.6" fill="#35a8f0"/>
</g>
<line x1="1577.7" y1="1133.4" x2="1620.7" y2="1133.4" stroke="#35a8f0" stroke-width="3.3" />
<circle cx="1599.2" cy="1133.4" r="6.84" fill="#35a8f0"/>
<text x="1638.69" y="1145.4" font-size="34.4" textLength="197.32" lengthAdjust="spacing" stroke="#111" stroke-width="0.5">zma-miR160</text>
<line x1="1577.7" y1="1176.7" x2="1620.7" y2="1176.7" stroke="#c8c81e" stroke-width="3.3" />
<rect x="1592.18" y="1169.68" width="14.04" height="14.04" fill="#c8c81e"/>
<text x="1638.69" y="1188" font-size="34.4" textLength="197.32" lengthAdjust="spacing" stroke="#111" stroke-width="0.5">zma-miR164</text>
<line x1="1577.7" y1="1219.4" x2="1620.7" y2="1219.4" stroke="#6e1064" stroke-width="3.3" />
<polygon points="1599.2,1211.48 1606.58,1224.71 1591.82,1224.71" fill="#6e1064"/>
<text x="1638.69" y="1229.6" font-size="34.4" textLength="197.32" lengthAdjust="spacing" stroke="#111" stroke-width="0.5">zma-miR319</text>
<line x1="1866.9" y1="1128" x2="1908.5" y2="1128" stroke="#ff6a10" stroke-width="3.3" />
<polygon points="1887.7,1135.92 1895.08,1122.69 1880.32,1122.69" fill="#ff6a10"/>
<text x="1928.59" y="1140.2" font-size="34.4" textLength="197.32" lengthAdjust="spacing" stroke="#111" stroke-width="0.5">zma-miR528</text>
<line x1="1866.9" y1="1171.6" x2="1908.5" y2="1171.6" stroke="#0a870a" stroke-width="3.3" />
<polygon points="1887.7,1163.23 1895.44,1171.6 1887.7,1179.97 1879.96,1171.6" fill="#0a870a"/>
<text x="1928.59" y="1182.5" font-size="34.4" textLength="197.32" lengthAdjust="spacing" stroke="#111" stroke-width="0.5">zma-miR159</text>
<line x1="1866.9" y1="1213.6" x2="1908.5" y2="1213.6" stroke="#0a0ad0" stroke-width="3.3" />
<circle cx="1887.7" cy="1213.6" r="6.84" fill="#0a0ad0"/>
<text x="1928.59" y="1223.4" font-size="34.4" textLength="197.32" lengthAdjust="spacing" stroke="#111" stroke-width="0.5">zma-miR390</text>
<line x1="1866.9" y1="1256.2" x2="1908.5" y2="1256.2" stroke="#c01414" stroke-width="3.3" />
<polygon points="1887.7,1248.55 1889.5,1253.72 1894.98,1253.84 1890.61,1257.15 1892.2,1262.39 1887.7,1259.26 1883.2,1262.39 1884.79,1257.15 1880.42,1253.84 1885.9,1253.72" fill="#c01414"/>
<text x="1928.59" y="1267.1" font-size="34.4" textLength="197.32" lengthAdjust="spacing" stroke="#111" stroke-width="0.5">zma-miR444</text>
<text x="93" y="1963" font-size="66" style="font-family:'Liberation Serif','Times New Roman',serif">d</text>
<line x1="210" y1="1985.4" x2="210" y2="2354" stroke="#111" stroke-width="3.6" />
<line x1="198" y1="2354" x2="210" y2="2354" stroke="#111" stroke-width="3.6" />
<text transform="translate(194.34,2364.6) scale(0.943,1)" font-size="30.9" text-anchor="end" textLength="17.19" lengthAdjust="spacing" stroke="#111" stroke-width="0.3">0</text>
<line x1="198" y1="2262.3" x2="210" y2="2262.3" stroke="#111" stroke-width="3.6" />
<text transform="translate(194.35,2272.9) scale(0.943,1)" font-size="30.9" text-anchor="end" textLength="51.56" lengthAdjust="spacing" stroke="#111" stroke-width="0.3">200</text>
<line x1="198" y1="2170.6" x2="210" y2="2170.6" stroke="#111" stroke-width="3.6" />
<text transform="translate(194.35,2181.2) scale(0.943,1)" font-size="30.9" text-anchor="end" textLength="51.56" lengthAdjust="spacing" stroke="#111" stroke-width="0.3">400</text>
<line x1="198" y1="2078.9" x2="210" y2="2078.9" stroke="#111" stroke-width="3.6" />
<text transform="translate(194.35,2089.5) scale(0.943,1)" font-size="30.9" text-anchor="end" textLength="51.56" lengthAdjust="spacing" stroke="#111" stroke-width="0.3">600</text>
<line x1="198" y1="1987.2" x2="210" y2="1987.2" stroke="#111" stroke-width="3.6" />
<text transform="translate(194.35,1997.8) scale(0.943,1)" font-size="30.9" text-anchor="end" textLength="51.56" lengthAdjust="spacing" stroke="#111" stroke-width="0.3">800</text>
<line x1="198" y1="2354" x2="1009.5" y2="2354" stroke="#111" stroke-width="3.6" />
<line x1="275.5" y1="2354" x2="275.5" y2="2366.5" stroke="#111" stroke-width="3.6" />
<line x1="408.76" y1="2354" x2="408.76" y2="2366.5" stroke="#111" stroke-width="3.6" />
<line x1="542.02" y1="2354" x2="542.02" y2="2366.5" stroke="#111" stroke-width="3.6" />
<line x1="675.28" y1="2354" x2="675.28" y2="2366.5" stroke="#111" stroke-width="3.6" />
<line x1="808.54" y1="2354" x2="808.54" y2="2366.5" stroke="#111" stroke-width="3.6" />
<line x1="941.8" y1="2354" x2="941.8" y2="2366.5" stroke="#111" stroke-width="3.6" />
<text transform="translate(286.5,2394.3) rotate(-45)" font-size="29.5" text-anchor="end" textLength="197.99" lengthAdjust="spacing" stroke="#111" stroke-width="0.3">9 DAP embryo</text>
<text transform="translate(419.76,2394.3) rotate(-45)" font-size="29.5" text-anchor="end" textLength="248.93" lengthAdjust="spacing" stroke="#111" stroke-width="0.3">9 DAP endosperm</text>
<text transform="translate(553.02,2394.3) rotate(-45)" font-size="29.5" text-anchor="end" textLength="214.97" lengthAdjust="spacing" stroke="#111" stroke-width="0.3">15 DAP embryo</text>
<text transform="translate(686.28,2394.3) rotate(-45)" font-size="29.5" text-anchor="end" textLength="265.91" lengthAdjust="spacing" stroke="#111" stroke-width="0.3">15 DAP endosperm</text>
<text transform="translate(819.54,2394.3) rotate(-45)" font-size="29.5" text-anchor="end" textLength="214.97" lengthAdjust="spacing" stroke="#111" stroke-width="0.3">20 DAP embryo</text>
<text transform="translate(952.8,2394.3) rotate(-45)" font-size="29.5" text-anchor="end" textLength="265.91" lengthAdjust="spacing" stroke="#111" stroke-width="0.3">20 DAP endosperm</text>
<text transform="translate(82.3,2261.95) rotate(-90)" font-size="38.5" textLength="184.75" lengthAdjust="spacing">TPM value</text>
<polyline points="275.5,2061.5 408.76,2310.3 542.02,2036.8 675.28,2160.8 808.54,2273.3 941.8,2306" fill="none" stroke="#2ea4f0" stroke-width="3.2" stroke-linejoin="round"/>
<polygon points="275.5,2052.7 283.7,2067.4 267.3,2067.4" fill="#2ea4f0"/>
<polygon points="408.76,2301.5 416.96,2316.2 400.56,2316.2" fill="#2ea4f0"/>
<polygon points="542.02,2028 550.22,2042.7 533.82,2042.7" fill="#2ea4f0"/>
<polygon points="675.28,2152 683.48,2166.7 667.08,2166.7" fill="#2ea4f0"/>
<polygon points="808.54,2264.5 816.74,2279.2 800.34,2279.2" fill="#2ea4f0"/>
<polygon points="941.8,2297.2 950,2311.9 933.6,2311.9" fill="#2ea4f0"/>
<polyline points="275.5,2338.8 408.76,2354.4 542.02,2315.5 675.28,2349.5 808.54,2344.7 941.8,2353.2" fill="none" stroke="#078007" stroke-width="3.2" stroke-linejoin="round"/>
<rect x="267.7" y="2331" width="15.6" height="15.6" fill="#078007"/>
<rect x="400.96" y="2346.6" width="15.6" height="15.6" fill="#078007"/>
<rect x="534.22" y="2307.7" width="15.6" height="15.6" fill="#078007"/>
<rect x="667.48" y="2341.7" width="15.6" height="15.6" fill="#078007"/>
<rect x="800.74" y="2336.9" width="15.6" height="15.6" fill="#078007"/>
<rect x="934" y="2345.4" width="15.6" height="15.6" fill="#078007"/>
<polyline points="275.5,2349.7 408.76,2349.7 542.02,2276.1 675.28,2335 808.54,2345.9 941.8,2348.3" fill="none" stroke="#ff8c1a" stroke-width="3.2" stroke-linejoin="round"/>
<circle cx="275.5" cy="2349.7" r="7.6" fill="#ff8c1a"/>
<circle cx="408.76" cy="2349.7" r="7.6" fill="#ff8c1a"/>
<circle cx="542.02" cy="2276.1" r="7.6" fill="#ff8c1a"/>
<circle cx="675.28" cy="2335" r="7.6" fill="#ff8c1a"/>
<circle cx="808.54" cy="2345.9" r="7.6" fill="#ff8c1a"/>
<circle cx="941.8" cy="2348.3" r="7.6" fill="#ff8c1a"/>
<line x1="672" y1="2016.1" x2="713.9" y2="2016.1" stroke="#ff8c1a" stroke-width="3.3" />
<circle cx="692.95" cy="2016.1" r="7.6" fill="#ff8c1a"/>
<text x="733.49" y="2027.7" font-size="34.4" textLength="197.32" lengthAdjust="spacing" stroke="#111" stroke-width="0.5">zma-miR169</text>
<line x1="672" y1="2058" x2="713.9" y2="2058" stroke="#078007" stroke-width="3.3" />
<rect x="685.15" y="2050.2" width="15.6" height="15.6" fill="#078007"/>
<text x="733.49" y="2070.1" font-size="34.4" textLength="197.32" lengthAdjust="spacing" stroke="#111" stroke-width="0.5">zma-miR394</text>
<line x1="672" y1="2101.5" x2="713.9" y2="2101.5" stroke="#2ea4f0" stroke-width="3.3" />
<polygon points="692.95,2092.7 701.15,2107.4 684.75,2107.4" fill="#2ea4f0"/>
<text x="733.49" y="2112" font-size="34.4" textLength="197.32" lengthAdjust="spacing" stroke="#111" stroke-width="0.5">zma-miR408</text>
<text x="1064" y="1963" font-size="66" style="font-family:'Liberation Serif','Times New Roman',serif">e</text>
<line x1="1215.6" y1="1980.3" x2="1215.6" y2="2159" stroke="#111" stroke-width="3.6" />
<line x1="1209" y1="2159" x2="1223" y2="2159" stroke="#111" stroke-width="3.6" />
<line x1="1215.6" y1="2176.5" x2="1215.6" y2="2353.8" stroke="#111" stroke-width="3.6" />
<line x1="1204.3" y1="2176.5" x2="1223" y2="2176.5" stroke="#111" stroke-width="3.6" />
<line x1="1204.3" y1="1982.1" x2="1215.6" y2="1982.1" stroke="#111" stroke-width="3.6" />
<text transform="translate(1201.19,1992.7) scale(0.97,1)" font-size="30.9" text-anchor="end" textLength="68.74" lengthAdjust="spacing" stroke="#111" stroke-width="0.3">3000</text>
<line x1="1204.3" y1="2055.8" x2="1215.6" y2="2055.8" stroke="#111" stroke-width="3.6" />
<text transform="translate(1201.19,2066.4) scale(0.97,1)" font-size="30.9" text-anchor="end" textLength="68.74" lengthAdjust="spacing" stroke="#111" stroke-width="0.3">2000</text>
<line x1="1204.3" y1="2129.6" x2="1215.6" y2="2129.6" stroke="#111" stroke-width="3.6" />
<text transform="translate(1201.19,2140.2) scale(0.97,1)" font-size="30.9" text-anchor="end" textLength="68.74" lengthAdjust="spacing" stroke="#111" stroke-width="0.3">1000</text>
<line x1="1204.3" y1="2353.8" x2="1215.6" y2="2353.8" stroke="#111" stroke-width="3.6" />
<text transform="translate(1201.17,2364.4) scale(0.97,1)" font-size="30.9" text-anchor="end" textLength="17.19" lengthAdjust="spacing" stroke="#111" stroke-width="0.3">0</text>
<line x1="1204.3" y1="2318.34" x2="1215.6" y2="2318.34" stroke="#111" stroke-width="3.6" />
<text transform="translate(1201.18,2328.94) scale(0.97,1)" font-size="30.9" text-anchor="end" textLength="51.56" lengthAdjust="spacing" stroke="#111" stroke-width="0.3">100</text>
<line x1="1204.3" y1="2282.88" x2="1215.6" y2="2282.88" stroke="#111" stroke-width="3.6" />
<text transform="translate(1201.18,2293.48) scale(0.97,1)" font-size="30.9" text-anchor="end" textLength="51.56" lengthAdjust="spacing" stroke="#111" stroke-width="0.3">200</text>
<line x1="1204.3" y1="2247.42" x2="1215.6" y2="2247.42" stroke="#111" stroke-width="3.6" />
<text transform="translate(1201.18,2258.02) scale(0.97,1)" font-size="30.9" text-anchor="end" textLength="51.56" lengthAdjust="spacing" stroke="#111" stroke-width="0.3">300</text>
<line x1="1204.3" y1="2211.96" x2="1215.6" y2="2211.96" stroke="#111" stroke-width="3.6" />
<text transform="translate(1201.18,2222.56) scale(0.97,1)" font-size="30.9" text-anchor="end" textLength="51.56" lengthAdjust="spacing" stroke="#111" stroke-width="0.3">400</text>
<line x1="1204.3" y1="2176.5" x2="1215.6" y2="2176.5" stroke="#111" stroke-width="3.6" />
<text transform="translate(1201.18,2187.1) scale(0.97,1)" font-size="30.9" text-anchor="end" textLength="51.56" lengthAdjust="spacing" stroke="#111" stroke-width="0.3">500</text>
<line x1="1204.3" y1="2353.8" x2="2023" y2="2353.8" stroke="#111" stroke-width="3.6" />
<line x1="1282.3" y1="2353.8" x2="1282.3" y2="2366.3" stroke="#111" stroke-width="3.6" />
<line x1="1416.98" y1="2353.8" x2="1416.98" y2="2366.3" stroke="#111" stroke-width="3.6" />
<line x1="1551.66" y1="2353.8" x2="1551.66" y2="2366.3" stroke="#111" stroke-width="3.6" />
<line x1="1686.34" y1="2353.8" x2="1686.34" y2="2366.3" stroke="#111" stroke-width="3.6" />
<line x1="1821.02" y1="2353.8" x2="1821.02" y2="2366.3" stroke="#111" stroke-width="3.6" />
<line x1="1955.7" y1="2353.8" x2="1955.7" y2="2366.3" stroke="#111" stroke-width="3.6" />
<text transform="translate(1293.3,2394.1) rotate(-45)" font-size="29.5" text-anchor="end" textLength="197.99" lengthAdjust="spacing" stroke="#111" stroke-width="0.3">9 DAP embryo</text>
<text transform="translate(1427.98,2394.1) rotate(-45)" font-size="29.5" text-anchor="end" textLength="248.93" lengthAdjust="spacing" stroke="#111" stroke-width="0.3">9 DAP endosperm</text>
<text transform="translate(1562.66,2394.1) rotate(-45)" font-size="29.5" text-anchor="end" textLength="214.97" lengthAdjust="spacing" stroke="#111" stroke-width="0.3">15 DAP embryo</text>
<text transform="translate(1697.34,2394.1) rotate(-45)" font-size="29.5" text-anchor="end" textLength="265.91" lengthAdjust="spacing" stroke="#111" stroke-width="0.3">15 DAP endosperm</text>
<text transform="translate(1832.02,2394.1) rotate(-45)" font-size="29.5" text-anchor="end" textLength="214.97" lengthAdjust="spacing" stroke="#111" stroke-width="0.3">20 DAP embryo</text>
<text transform="translate(1966.7,2394.1) rotate(-45)" font-size="29.5" text-anchor="end" textLength="265.91" lengthAdjust="spacing" stroke="#111" stroke-width="0.3">20 DAP endosperm</text>
<text transform="translate(1088.8,2258.48) rotate(-90)" font-size="39.8" textLength="188.34" lengthAdjust="spacing">TPM value</text>
<polyline points="1282.3,2318.7 1416.98,2334.5 1551.66,2318.7 1686.34,2283.7 1821.02,2344.1 1955.7,2295.8" fill="none" stroke="#078007" stroke-width="3.2" stroke-linejoin="round" clip-path="url(#clipe)"/>
<g clip-path="url(#clipe)">
<polygon points="1282.3,2327.5 1290.5,2312.8 1274.1,2312.8" fill="#078007"/>
<polygon points="1416.98,2343.3 1425.18,2328.6 1408.78,2328.6" fill="#078007"/>
<polygon points="1551.66,2327.5 1559.86,2312.8 1543.46,2312.8" fill="#078007"/>
<polygon points="1686.34,2292.5 1694.54,2277.8 1678.14,2277.8" fill="#078007"/>
<polygon points="1821.02,2352.9 1829.22,2338.2 1812.82,2338.2" fill="#078007"/>
<polygon points="1955.7,2304.6 1963.9,2289.9 1947.5,2289.9" fill="#078007"/>
</g>
<polyline points="1282.3,2336.9 1416.98,2334.5 1551.66,2330.4 1686.34,2306.6 1821.02,2347.8 1955.7,2297" fill="none" stroke="#ff6414" stroke-width="3.2" stroke-linejoin="round" clip-path="url(#clipe)"/>
<g clip-path="url(#clipe)">
<polygon points="1282.3,2328.1 1290.5,2342.8 1274.1,2342.8" fill="#ff6414"/>
<polygon points="1416.98,2325.7 1425.18,2340.4 1408.78,2340.4" fill="#ff6414"/>
<polygon points="1551.66,2321.6 1559.86,2336.3 1543.46,2336.3" fill="#ff6414"/>
<polygon points="1686.34,2297.8 1694.54,2312.5 1678.14,2312.5" fill="#ff6414"/>
<polygon points="1821.02,2339 1829.22,2353.7 1812.82,2353.7" fill="#ff6414"/>
<polygon points="1955.7,2288.2 1963.9,2302.9 1947.5,2302.9" fill="#ff6414"/>
</g>
<polyline points="1282.3,2154.7 1416.98,2154.7 1551.66,2142.6 1686.34,2001.8 1821.02,2209.9 1955.7,2050.2" fill="none" stroke="#0aa0ff" stroke-width="3.2" stroke-linejoin="round" clip-path="url(#clipe)"/>
<g clip-path="url(#clipe)">
<rect x="1274.5" y="2146.9" width="15.6" height="15.6" fill="#0aa0ff"/>
<rect x="1409.18" y="2146.9" width="15.6" height="15.6" fill="#0aa0ff"/>
<rect x="1543.86" y="2134.8" width="15.6" height="15.6" fill="#0aa0ff"/>
<rect x="1678.54" y="1994" width="15.6" height="15.6" fill="#0aa0ff"/>
<rect x="1813.22" y="2202.1" width="15.6" height="15.6" fill="#0aa0ff"/>
<rect x="1947.9" y="2042.4" width="15.6" height="15.6" fill="#0aa0ff"/>
</g>
<polyline points="1282.3,2347.8 1416.98,2311 1551.66,2341 1686.34,2297 1821.02,2349 1955.7,2309" fill="none" stroke="#bf80cf" stroke-width="3.2" stroke-linejoin="round" clip-path="url(#clipe)"/>
<g clip-path="url(#clipe)">
<circle cx="1282.3" cy="2347.8" r="7.6" fill="#bf80cf"/>
<circle cx="1416.98" cy="2311" r="7.6" fill="#bf80cf"/>
<circle cx="1551.66" cy="2341" r="7.6" fill="#bf80cf"/>
<circle cx="1686.34" cy="2297" r="7.6" fill="#bf80cf"/>
<circle cx="1821.02" cy="2349" r="7.6" fill="#bf80cf"/>
<circle cx="1955.7" cy="2309" r="7.6" fill="#bf80cf"/>
</g>
<line x1="1841" y1="1865.8" x2="1883.1" y2="1865.8" stroke="#bf80cf" stroke-width="3.3" />
<circle cx="1862.05" cy="1865.8" r="7.6" fill="#bf80cf"/>
<text x="1903.69" y="1878.2" font-size="34.4" textLength="197.32" lengthAdjust="spacing" stroke="#111" stroke-width="0.5">zma-miR393</text>
<line x1="1841" y1="1909.2" x2="1883.1" y2="1909.2" stroke="#0aa0ff" stroke-width="3.3" />
<rect x="1854.25" y="1901.4" width="15.6" height="15.6" fill="#0aa0ff"/>
<text x="1903.69" y="1920.3" font-size="34.4" textLength="197.32" lengthAdjust="spacing" stroke="#111" stroke-width="0.5">zma-miR396</text>
<line x1="1841" y1="1952.8" x2="1883.1" y2="1952.8" stroke="#ff6414" stroke-width="3.3" />
<polygon points="1862.05,1944 1870.25,1958.7 1853.85,1958.7" fill="#ff6414"/>
<text x="1903.69" y="1965.3" font-size="34.4" textLength="197.32" lengthAdjust="spacing" stroke="#111" stroke-width="0.5">zma-miR168</text>
<line x1="1841" y1="1997.8" x2="1883.1" y2="1997.8" stroke="#078007" stroke-width="3.3" />
<polygon points="1862.05,2006.6 1870.25,1991.9 1853.85,1991.9" fill="#078007"/>
<text x="1903.69" y="2009.2" font-size="34.4" textLength="197.32" lengthAdjust="spacing" stroke="#111" stroke-width="0.5">zma-miR398</text>
</svg>
</body></html>
